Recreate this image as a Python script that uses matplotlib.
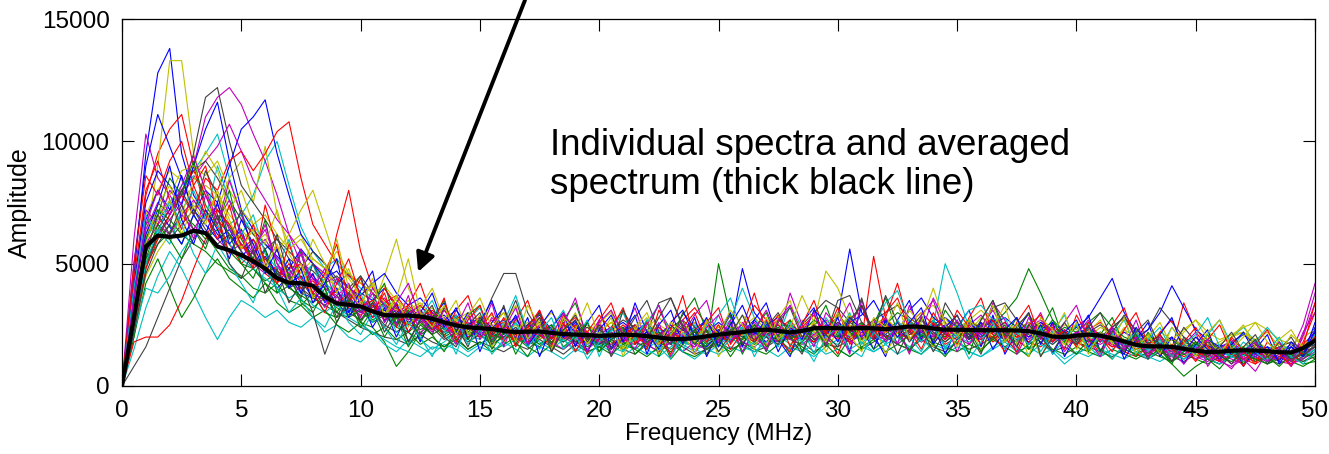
import numpy as np
import matplotlib
matplotlib.use('Agg')
from matplotlib import pyplot as plt

plt.rcParams['font.family'] = ['Liberation Sans', 'DejaVu Sans']

# frequency grid (MHz), one sample every 0.5 MHz
freq = np.linspace(0, 50, 101)

# individual spectra, amplitude in hundreds
spec_01 = [0, 45, 95, 128, 138, 95, 78, 70, 62, 58, 52, 60, 48, 40, 45, 38, 36, 42, 33, 30, 35, 28, 31, 26, 29, 33, 27, 24, 29, 22, 26, 21, 24, 28, 20, 23, 19, 25, 22, 17, 21, 24, 18, 22, 26, 19, 17, 21, 24, 20, 23, 18, 22, 27, 21, 19, 25, 22, 18, 24, 28, 56, 30, 24, 21, 26, 22, 19, 25, 28, 22, 20, 24, 27, 19, 22, 26, 21, 18, 23, 20, 24, 19, 22, 17, 15, 18, 14, 16, 13, 15, 12, 16, 13, 11, 14, 12, 15, 13, 16, 20]
spec_02 = [0, 25, 52, 60, 66, 58, 70, 62, 55, 48, 45, 40, 38, 42, 35, 33, 38, 30, 28, 32, 26, 24, 18, 8, 14, 22, 25, 20, 23, 19, 17, 21, 19, 23, 18, 16, 20, 22, 17, 19, 21, 18, 15, 19, 22, 17, 14, 18, 20, 16, 50, 28, 21, 18, 23, 25, 20, 24, 19, 22, 25, 21, 24, 20, 26, 22, 19, 23, 27, 21, 24, 20, 23, 19, 22, 25, 21, 18, 22, 19, 17, 20, 22, 18, 15, 13, 16, 14, 12, 15, 13, 11, 14, 12, 15, 13, 10, 12, 14, 11, 15]
spec_03 = [0, 40, 78, 95, 105, 111, 90, 72, 65, 58, 50, 55, 46, 42, 48, 50, 44, 40, 62, 80, 55, 40, 35, 30, 33, 28, 31, 26, 29, 24, 27, 22, 25, 20, 23, 26, 21, 19, 24, 22, 18, 21, 25, 20, 17, 22, 19, 23, 26, 20, 18, 22, 19, 25, 21, 23, 27, 20, 18, 22, 20, 24, 19, 53, 28, 22, 25, 21, 19, 23, 26, 21, 24, 18, 22, 20, 23, 26, 21, 19, 22, 18, 21, 17, 15, 19, 16, 14, 17, 13, 15, 12, 14, 16, 13, 11, 14, 12, 13, 17, 22]
spec_04 = [0, 35, 62, 70, 75, 82, 88, 95, 103, 85, 70, 78, 92, 100, 82, 65, 55, 48, 52, 45, 40, 36, 32, 28, 25, 30, 27, 22, 25, 21, 19, 23, 20, 24, 18, 21, 17, 20, 23, 19, 16, 20, 22, 18, 15, 19, 21, 17, 14, 18, 20, 23, 18, 21, 25, 19, 22, 20, 17, 21, 24, 19, 22, 26, 21, 18, 23, 20, 25, 50, 38, 24, 20, 23, 19, 22, 25, 20, 18, 21, 19, 23, 18, 20, 16, 14, 17, 19, 15, 13, 16, 14, 12, 15, 22, 17, 13, 15, 12, 14, 18]
spec_05 = [0, 30, 55, 62, 68, 75, 90, 110, 118, 122, 115, 103, 92, 78, 62, 50, 45, 40, 36, 38, 33, 30, 34, 28, 25, 29, 24, 22, 26, 21, 24, 20, 22, 19, 25, 21, 18, 22, 20, 17, 21, 24, 19, 17, 22, 20, 23, 18, 16, 21, 19, 22, 25, 20, 18, 23, 21, 19, 24, 22, 20, 23, 26, 21, 19, 24, 22, 27, 23, 20, 25, 21, 24, 28, 22, 19, 23, 21, 18, 22, 20, 17, 21, 19, 16, 18, 15, 17, 14, 16, 13, 11, 14, 9, 12, 15, 13, 11, 14, 25, 42]
spec_06 = [0, 28, 60, 90, 133, 133, 95, 80, 72, 85, 92, 75, 98, 70, 58, 62, 50, 45, 40, 38, 36, 32, 45, 60, 40, 30, 27, 24, 28, 22, 20, 24, 19, 22, 26, 21, 18, 23, 20, 24, 22, 19, 17, 21, 23, 18, 20, 24, 19, 16, 21, 18, 22, 20, 24, 21, 17, 23, 26, 47, 40, 28, 23, 20, 25, 22, 26, 21, 24, 19, 22, 27, 24, 20, 18, 22, 19, 24, 21, 17, 19, 22, 18, 21, 17, 20, 16, 18, 15, 17, 14, 16, 18, 21, 22, 17, 14, 16, 13, 15, 17]
spec_07 = [0, 20, 48, 62, 70, 78, 95, 118, 122, 100, 82, 75, 68, 60, 55, 50, 47, 42, 45, 40, 36, 31, 34, 28, 30, 26, 29, 23, 27, 21, 24, 36, 46, 46, 30, 22, 25, 19, 23, 20, 17, 21, 24, 19, 22, 34, 36, 25, 20, 23, 18, 21, 19, 23, 20, 17, 22, 24, 19, 21, 35, 37, 26, 22, 24, 20, 23, 27, 21, 18, 22, 20, 25, 21, 19, 23, 26, 22, 19, 21, 18, 16, 20, 24, 28, 21, 17, 15, 13, 16, 14, 17, 12, 15, 13, 16, 12, 14, 17, 13, 16]
spec_08 = [0, 32, 60, 72, 65, 58, 70, 80, 75, 90, 105, 110, 117, 95, 78, 62, 55, 50, 42, 46, 38, 35, 40, 32, 28, 31, 26, 29, 24, 22, 25, 21, 24, 27, 22, 19, 23, 21, 26, 20, 23, 19, 22, 25, 20, 18, 21, 24, 19, 22, 26, 22, 48, 30, 24, 21, 19, 23, 20, 25, 22, 26, 29, 35, 26, 22, 25, 20, 23, 28, 24, 21, 19, 23, 26, 21, 24, 20, 22, 18, 21, 24, 19, 22, 18, 16, 19, 17, 15, 18, 16, 14, 17, 13, 15, 12, 16, 14, 12, 15, 24]
spec_09 = [0, 26, 50, 58, 63, 70, 66, 60, 64, 55, 50, 48, 43, 46, 40, 37, 34, 38, 32, 29, 33, 27, 30, 25, 28, 23, 26, 21, 24, 20, 22, 19, 23, 21, 17, 20, 24, 18, 21, 16, 19, 22, 17, 20, 23, 18, 15, 19, 22, 17, 20, 18, 23, 19, 21, 24, 20, 22, 18, 21, 25, 21, 19, 23, 27, 22, 26, 21, 24, 20, 23, 27, 22, 25, 30, 36, 48, 38, 27, 22, 20, 24, 19, 21, 17, 15, 18, 13, 9, 4, 8, 11, 9, 13, 10, 12, 9, 11, 13, 10, 13]
spec_10 = [0, 30, 58, 66, 72, 78, 70, 85, 80, 92, 96, 88, 95, 104, 108, 85, 66, 58, 50, 45, 42, 38, 34, 37, 30, 33, 28, 31, 26, 24, 28, 23, 26, 21, 24, 28, 22, 19, 23, 20, 25, 21, 18, 22, 20, 24, 19, 21, 26, 22, 19, 23, 21, 18, 22, 25, 20, 24, 21, 19, 23, 20, 24, 19, 22, 26, 21, 23, 20, 24, 21, 25, 22, 19, 23, 20, 18, 22, 25, 21, 19, 23, 26, 21, 18, 20, 16, 19, 15, 34, 22, 16, 14, 17, 13, 15, 12, 14, 16, 13, 19]
spec_11 = [0, 33, 60, 68, 74, 80, 86, 78, 72, 66, 70, 62, 58, 52, 47, 44, 50, 42, 38, 34, 31, 35, 28, 25, 22, 19, 15, 18, 22, 25, 21, 18, 22, 26, 20, 17, 21, 19, 15, 18, 22, 19, 16, 20, 18, 23, 20, 17, 21, 19, 22, 27, 40, 28, 20, 24, 21, 18, 22, 19, 17, 21, 24, 20, 18, 22, 26, 21, 19, 23, 20, 18, 22, 24, 21, 19, 23, 20, 17, 21, 24, 20, 18, 22, 19, 17, 15, 18, 16, 14, 17, 15, 13, 20, 24, 18, 15, 13, 16, 12, 15]
spec_12 = [0, 60, 103, 85, 78, 70, 64, 72, 60, 55, 58, 50, 46, 49, 42, 39, 44, 36, 33, 37, 30, 33, 27, 30, 25, 28, 23, 26, 20, 24, 21, 25, 19, 22, 18, 21, 24, 20, 17, 21, 19, 16, 20, 23, 18, 21, 17, 14, 18, 21, 17, 20, 23, 19, 22, 18, 21, 25, 20, 23, 19, 22, 25, 21, 24, 20, 23, 27, 22, 19, 24, 21, 26, 22, 19, 23, 20, 25, 21, 18, 22, 19, 17, 20, 16, 18, 14, 17, 15, 13, 16, 14, 12, 15, 11, 14, 13, 10, 9, 12, 16]
spec_13 = [0, 22, 45, 55, 62, 68, 75, 82, 78, 70, 64, 58, 62, 55, 50, 46, 52, 48, 42, 39, 36, 33, 30, 34, 28, 25, 29, 24, 27, 22, 20, 24, 21, 25, 22, 19, 23, 27, 21, 18, 22, 26, 20, 18, 21, 25, 22, 19, 23, 20, 24, 21, 18, 22, 26, 21, 19, 23, 20, 24, 22, 25, 21, 24, 20, 23, 19, 22, 26, 21, 25, 22, 28, 24, 20, 23, 26, 21, 19, 22, 20, 17, 21, 19, 23, 20, 17, 22, 19, 16, 18, 15, 17, 20, 22, 19, 22, 16, 14, 17, 20]
spec_14 = [0, 8, 16, 28, 40, 52, 60, 68, 72, 65, 58, 52, 47, 44, 48, 40, 36, 33, 30, 27, 24, 22, 20, 19, 17, 21, 18, 16, 20, 15, 18, 16, 14, 17, 15, 19, 16, 13, 17, 14, 16, 19, 15, 13, 17, 14, 18, 16, 13, 15, 18, 15, 17, 14, 16, 19, 15, 18, 14, 17, 16, 19, 15, 18, 21, 17, 15, 19, 16, 14, 18, 15, 17, 20, 16, 19, 15, 18, 14, 16, 13, 16, 14, 12, 15, 13, 11, 14, 12, 10, 13, 11, 9, 12, 10, 13, 11, 9, 12, 10, 12]
spec_15 = [0, 50, 90, 111, 98, 85, 72, 66, 60, 64, 55, 50, 53, 46, 42, 45, 38, 35, 39, 33, 30, 34, 28, 31, 26, 29, 23, 27, 22, 25, 21, 24, 20, 23, 19, 22, 18, 21, 25, 20, 17, 21, 24, 19, 22, 18, 20, 23, 19, 16, 21, 24, 20, 22, 18, 23, 21, 19, 24, 20, 22, 18, 21, 25, 20, 23, 19, 22, 26, 21, 19, 23, 20, 24, 21, 18, 22, 26, 23, 20, 24, 28, 36, 44, 30, 22, 19, 17, 20, 16, 14, 17, 13, 16, 14, 12, 15, 13, 11, 14, 18]
spec_16 = [0, 36, 66, 72, 68, 62, 58, 55, 50, 47, 44, 48, 42, 38, 41, 35, 32, 36, 30, 28, 31, 26, 29, 24, 22, 26, 21, 24, 19, 22, 25, 20, 23, 19, 21, 17, 20, 23, 18, 21, 19, 22, 18, 15, 19, 22, 17, 20, 18, 15, 19, 23, 20, 17, 21, 24, 19, 22, 27, 23, 20, 23, 19, 22, 25, 30, 27, 22, 19, 23, 26, 22, 20, 24, 21, 25, 29, 23, 20, 24, 22, 26, 30, 24, 20, 18, 21, 17, 19, 15, 17, 13, 16, 14, 12, 15, 13, 11, 14, 12, 13]
spec_17 = [0, 24, 48, 60, 70, 80, 88, 78, 68, 62, 56, 60, 52, 47, 44, 40, 43, 37, 34, 38, 32, 35, 29, 32, 27, 30, 25, 22, 26, 20, 23, 27, 22, 19, 24, 21, 18, 22, 25, 21, 18, 22, 19, 17, 21, 24, 20, 27, 32, 25, 20, 18, 22, 19, 17, 21, 24, 20, 18, 23, 21, 19, 23, 20, 25, 22, 19, 24, 21, 17, 20, 23, 19, 22, 26, 21, 18, 16, 20, 22, 18, 15, 19, 17, 14, 12, 16, 13, 15, 11, 14, 12, 10, 13, 11, 9, 12, 14, 10, 18, 30]
spec_18 = [0, 15, 32, 45, 55, 48, 38, 28, 19, 28, 35, 32, 28, 31, 26, 24, 28, 22, 25, 20, 18, 22, 17, 14, 19, 16, 13, 17, 15, 12, 16, 14, 18, 15, 12, 16, 14, 11, 15, 13, 17, 14, 12, 16, 13, 15, 18, 14, 11, 15, 13, 16, 14, 18, 15, 12, 16, 14, 17, 13, 15, 12, 16, 14, 17, 13, 16, 19, 15, 13, 16, 14, 12, 15, 18, 14, 16, 13, 15, 11, 14, 12, 15, 13, 11, 14, 12, 10, 13, 11, 14, 11, 9, 12, 10, 13, 11, 14, 12, 15, 17]
spec_19 = [0, 34, 64, 75, 70, 78, 85, 92, 98, 107, 96, 84, 76, 68, 62, 55, 50, 46, 42, 38, 35, 32, 36, 30, 27, 31, 25, 28, 23, 26, 22, 25, 20, 23, 19, 22, 17, 21, 18, 15, 19, 22, 18, 21, 17, 20, 23, 19, 16, 20, 23, 19, 22, 26, 20, 18, 22, 19, 23, 27, 22, 20, 24, 21, 19, 23, 26, 22, 20, 24, 21, 25, 29, 23, 20, 22, 19, 23, 21, 18, 21, 18, 20, 16, 19, 17, 14, 16, 13, 15, 12, 10, 13, 11, 9, 12, 10, 13, 11, 20, 34]
spec_20 = [0, 38, 70, 80, 88, 84, 76, 70, 78, 66, 60, 64, 58, 55, 62, 72, 80, 65, 50, 44, 37, 41, 34, 31, 35, 29, 32, 26, 24, 28, 23, 26, 30, 25, 21, 24, 20, 23, 19, 22, 26, 30, 22, 19, 23, 20, 24, 21, 18, 22, 20, 24, 21, 19, 23, 26, 21, 25, 22, 20, 24, 21, 23, 27, 22, 20, 25, 23, 28, 24, 21, 25, 22, 26, 23, 21, 24, 20, 22, 19, 17, 20, 18, 22, 19, 17, 20, 16, 19, 23, 27, 22, 19, 21, 24, 26, 23, 19, 17, 20, 23]
spec_21 = [0, 28, 55, 64, 72, 80, 88, 92, 85, 76, 68, 62, 56, 60, 52, 48, 55, 50, 44, 40, 45, 38, 33, 29, 32, 27, 30, 25, 28, 23, 26, 22, 19, 23, 21, 25, 20, 18, 22, 24, 20, 23, 27, 24, 20, 18, 21, 25, 22, 19, 23, 20, 24, 21, 26, 22, 19, 25, 30, 35, 32, 26, 23, 27, 30, 33, 28, 24, 21, 25, 22, 26, 24, 32, 34, 27, 23, 20, 24, 21, 19, 22, 25, 21, 18, 20, 23, 32, 26, 20, 17, 19, 15, 18, 21, 17, 14, 16, 18, 15, 17]
spec_22 = [0, 42, 75, 88, 82, 74, 90, 105, 116, 92, 72, 64, 58, 53, 48, 56, 50, 44, 47, 40, 37, 42, 46, 38, 33, 36, 30, 27, 31, 25, 28, 24, 27, 22, 25, 29, 23, 20, 24, 21, 19, 23, 26, 22, 18, 21, 25, 20, 23, 27, 22, 19, 24, 21, 25, 28, 23, 20, 24, 21, 26, 23, 20, 24, 27, 22, 31, 36, 28, 24, 22, 26, 21, 25, 28, 24, 20, 23, 26, 22, 20, 24, 21, 18, 22, 19, 23, 30, 41, 32, 23, 19, 16, 18, 14, 17, 15, 13, 16, 12, 22]
spec_23 = [0, 20, 42, 52, 40, 28, 36, 46, 52, 44, 40, 36, 42, 34, 30, 33, 28, 31, 25, 22, 26, 21, 24, 19, 22, 17, 20, 16, 19, 15, 18, 14, 17, 20, 16, 13, 17, 15, 19, 14, 16, 13, 17, 15, 12, 16, 19, 14, 12, 15, 17, 14, 18, 15, 13, 17, 20, 16, 13, 18, 15, 12, 16, 19, 14, 17, 15, 13, 18, 16, 14, 17, 15, 19, 16, 13, 17, 20, 15, 13, 16, 14, 12, 15, 13, 11, 14, 12, 10, 13, 11, 9, 12, 10, 13, 11, 9, 12, 10, 8, 11]
spec_24 = [0, 18, 20, 20, 25, 35, 48, 60, 72, 66, 58, 52, 48, 44, 50, 42, 38, 35, 39, 32, 29, 33, 27, 30, 25, 28, 23, 26, 21, 24, 20, 23, 26, 21, 18, 22, 20, 24, 28, 22, 19, 17, 21, 24, 20, 17, 22, 19, 23, 26, 21, 18, 22, 19, 23, 27, 24, 20, 25, 22, 19, 23, 21, 24, 20, 22, 26, 30, 25, 21, 23, 19, 22, 20, 24, 21, 18, 22, 25, 20, 17, 21, 19, 16, 18, 15, 17, 13, 15, 12, 14, 11, 13, 15, 12, 10, 13, 11, 14, 16, 20]
spec_25 = [0, 22, 40, 38, 45, 55, 62, 70, 66, 58, 52, 48, 44, 40, 36, 39, 33, 30, 34, 28, 25, 22, 19, 16, 14, 12, 16, 15, 18, 14, 17, 20, 16, 19, 22, 18, 15, 19, 14, 17, 20, 16, 14, 18, 15, 12, 16, 19, 15, 13, 17, 20, 16, 14, 18, 21, 17, 15, 12, 16, 19, 15, 18, 14, 17, 20, 16, 13, 17, 15, 18, 14, 12, 16, 19, 15, 13, 17, 14, 9, 13, 16, 12, 15, 18, 14, 11, 15, 24, 17, 13, 11, 14, 12, 15, 18, 24, 18, 14, 12, 15]
spec_26 = [0, 30, 58, 66, 62, 70, 76, 68, 74, 64, 58, 54, 60, 52, 46, 50, 44, 40, 37, 41, 34, 30, 33, 28, 31, 26, 29, 24, 21, 25, 22, 19, 23, 20, 17, 21, 18, 15, 19, 22, 18, 15, 19, 22, 17, 14, 18, 21, 17, 15, 19, 22, 18, 16, 20, 23, 19, 17, 21, 25, 21, 18, 22, 19, 23, 26, 22, 18, 21, 24, 20, 17, 22, 25, 21, 18, 24, 27, 22, 19, 22, 18, 21, 17, 15, 18, 14, 16, 12, 15, 11, 13, 10, 8, 11, 13, 10, 12, 9, 11, 14]
spec_27 = [0, 34, 62, 70, 78, 88, 90, 86, 92, 80, 72, 66, 70, 62, 56, 60, 52, 48, 55, 46, 42, 38, 41, 35, 31, 34, 29, 32, 27, 30, 26, 29, 24, 27, 22, 25, 30, 24, 21, 25, 22, 26, 23, 20, 24, 28, 23, 21, 26, 22, 25, 21, 24, 28, 23, 20, 24, 27, 22, 26, 29, 24, 21, 25, 28, 23, 26, 30, 33, 26, 23, 27, 31, 26, 22, 25, 29, 24, 21, 25, 23, 20, 24, 21, 18, 22, 19, 16, 19, 17, 20, 17, 15, 18, 16, 19, 15, 17, 14, 16, 19]
spec_28 = [0, 25, 50, 62, 60, 66, 72, 64, 58, 62, 55, 48, 52, 45, 40, 43, 36, 33, 37, 30, 27, 31, 25, 22, 26, 21, 24, 19, 22, 18, 21, 17, 20, 24, 19, 16, 20, 23, 18, 21, 17, 20, 23, 18, 16, 21, 24, 27, 22, 18, 21, 18, 22, 25, 20, 17, 21, 24, 19, 22, 26, 22, 19, 23, 20, 17, 21, 25, 22, 18, 22, 19, 23, 27, 21, 18, 22, 20, 17, 21, 19, 22, 18, 24, 28, 23, 19, 16, 14, 17, 15, 13, 16, 12, 14, 17, 13, 15, 12, 14, 16]
spec_29 = [0, 35, 68, 80, 72, 86, 70, 62, 75, 58, 64, 50, 56, 44, 52, 38, 46, 34, 40, 28, 36, 24, 32, 20, 30, 18, 28, 34, 22, 30, 14, 26, 32, 18, 28, 12, 24, 30, 16, 26, 33, 15, 22, 29, 13, 25, 31, 17, 28, 12, 22, 30, 16, 27, 34, 19, 12, 26, 32, 18, 28, 14, 33, 21, 12, 27, 35, 19, 25, 13, 24, 31, 16, 29, 13, 22, 30, 17, 26, 12, 21, 29, 14, 24, 11, 19, 26, 12, 20, 9, 17, 23, 10, 18, 8, 15, 21, 9, 16, 12, 26]
spec_30 = [0, 30, 60, 70, 85, 78, 92, 74, 66, 80, 60, 52, 68, 46, 40, 55, 36, 44, 30, 38, 26, 34, 42, 25, 31, 19, 27, 35, 21, 29, 33, 18, 25, 13, 22, 30, 17, 27, 34, 20, 14, 24, 31, 18, 27, 12, 21, 29, 36, 22, 16, 26, 13, 23, 30, 18, 27, 14, 24, 33, 20, 29, 15, 25, 36, 22, 14, 28, 18, 31, 24, 13, 27, 35, 20, 28, 15, 23, 32, 18, 25, 14, 21, 28, 17, 12, 22, 15, 9, 19, 14, 21, 12, 17, 9, 15, 12, 18, 10, 14, 11]
spec_31 = [0, 44, 80, 92, 76, 64, 82, 90, 70, 54, 62, 48, 74, 56, 42, 50, 38, 46, 58, 34, 44, 30, 38, 24, 33, 42, 28, 20, 31, 37, 23, 30, 18, 27, 35, 21, 16, 29, 24, 13, 27, 34, 20, 25, 15, 31, 23, 37, 19, 26, 32, 17, 24, 38, 22, 29, 16, 25, 35, 21, 13, 26, 33, 19, 28, 42, 24, 18, 30, 22, 17, 28, 36, 21, 14, 26, 33, 19, 24, 15, 29, 20, 13, 25, 32, 18, 12, 22, 27, 16, 10, 19, 25, 14, 8, 17, 23, 13, 9, 16, 34]
spec_32 = [0, 26, 50, 64, 58, 72, 80, 68, 90, 76, 62, 70, 54, 48, 60, 42, 50, 36, 44, 30, 38, 26, 34, 22, 17, 28, 35, 24, 13, 27, 32, 20, 26, 37, 22, 15, 24, 31, 19, 27, 12, 23, 30, 18, 26, 33, 21, 14, 25, 19, 29, 36, 22, 15, 26, 20, 33, 24, 13, 28, 21, 30, 17, 24, 34, 39, 26, 18, 27, 15, 23, 31, 33, 27, 28, 18, 25, 14, 22, 29, 17, 24, 13, 21, 27, 15, 19, 24, 14, 11, 16, 21, 27, 17, 12, 19, 14, 20, 11, 15, 21]
spec_33 = [0, 38, 72, 66, 80, 74, 60, 78, 66, 84, 70, 56, 64, 50, 42, 54, 40, 32, 44, 36, 28, 40, 33, 25, 37, 21, 30, 26, 17, 29, 22, 34, 16, 28, 20, 31, 14, 25, 36, 19, 27, 13, 22, 32, 17, 26, 12, 21, 29, 35, 18, 27, 14, 23, 31, 20, 38, 25, 16, 30, 24, 13, 35, 21, 28, 17, 33, 22, 36, 26, 14, 25, 20, 34, 27, 13, 22, 30, 18, 26, 33, 19, 12, 23, 16, 27, 13, 20, 10, 17, 22, 8, 15, 19, 11, 6, 14, 18, 10, 22, 30]
spec_34 = [0, 32, 58, 74, 82, 70, 84, 96, 88, 72, 80, 66, 58, 72, 54, 46, 60, 50, 38, 48, 34, 42, 29, 37, 24, 32, 40, 27, 35, 21, 29, 16, 25, 33, 19, 27, 14, 22, 30, 17, 25, 31, 15, 23, 28, 13, 21, 27, 18, 26, 12, 20, 29, 24, 16, 28, 35, 19, 26, 14, 23, 29, 18, 26, 13, 22, 31, 25, 16, 28, 20, 27, 14, 24, 33, 17, 25, 12, 21, 30, 15, 22, 27, 17, 24, 13, 20, 26, 16, 22, 27, 19, 13, 20, 25, 16, 12, 19, 23, 15, 20]
spec_35 = [0, 22, 46, 58, 66, 80, 70, 88, 78, 60, 72, 54, 48, 62, 44, 36, 50, 40, 28, 38, 45, 30, 24, 34, 18, 27, 21, 32, 25, 16, 28, 21, 33, 17, 25, 30, 14, 23, 29, 19, 24, 12, 20, 28, 35, 22, 17, 30, 24, 13, 21, 29, 17, 24, 14, 26, 32, 20, 25, 16, 30, 22, 36, 19, 25, 13, 23, 29, 17, 34, 26, 21, 13, 27, 18, 24, 30, 12, 20, 26, 18, 25, 14, 22, 29, 19, 11, 21, 15, 24, 18, 12, 16, 22, 14, 19, 9, 15, 20, 12, 17]
spec_36 = [0, 40, 62, 74, 90, 68, 58, 72, 64, 52, 68, 58, 46, 56, 40, 48, 34, 42, 52, 30, 39, 47, 26, 34, 22, 30, 38, 24, 32, 19, 26, 35, 21, 29, 16, 24, 31, 20, 27, 14, 23, 29, 18, 34, 22, 15, 26, 31, 20, 28, 16, 25, 33, 21, 27, 14, 24, 19, 31, 26, 18, 28, 23, 15, 27, 20, 26, 32, 17, 24, 29, 19, 26, 15, 23, 28, 17, 25, 13, 22, 27, 16, 22, 19, 13, 24, 17, 21, 28, 14, 20, 15, 11, 17, 22, 13, 16, 10, 18, 12, 23]
spec_37 = [0, 28, 52, 66, 60, 52, 64, 56, 70, 62, 50, 44, 56, 38, 46, 34, 30, 40, 26, 35, 24, 31, 20, 28, 16, 25, 21, 14, 23, 19, 27, 15, 22, 18, 12, 21, 25, 16, 20, 26, 14, 19, 24, 13, 18, 22, 11, 17, 23, 15, 20, 12, 19, 25, 16, 21, 13, 18, 24, 17, 12, 20, 26, 15, 19, 24, 14, 21, 17, 12, 19, 23, 14, 20, 25, 16, 12, 21, 27, 18, 13, 19, 15, 11, 17, 21, 12, 15, 10, 14, 18, 11, 7, 13, 16, 10, 12, 8, 13, 9, 10]
spec_38 = [0, 50, 86, 78, 92, 100, 82, 70, 60, 74, 56, 66, 50, 42, 58, 44, 38, 30, 42, 52, 36, 28, 40, 33, 22, 30, 25, 36, 18, 27, 33, 20, 28, 16, 24, 31, 19, 26, 14, 22, 29, 23, 32, 17, 26, 20, 13, 24, 30, 18, 25, 15, 22, 33, 27, 19, 14, 24, 29, 21, 32, 17, 25, 20, 30, 36, 23, 15, 26, 19, 31, 24, 17, 27, 20, 14, 25, 29, 18, 23, 16, 26, 20, 14, 23, 30, 17, 21, 12, 18, 24, 16, 10, 20, 14, 9, 18, 13, 8, 15, 20]
spec_39 = [0, 40, 70, 62, 76, 66, 54, 46, 58, 50, 42, 34, 48, 40, 30, 36, 28, 24, 34, 26, 21, 30, 24, 17, 26, 20, 12, 22, 29, 17, 23, 13, 19, 26, 16, 22, 28, 15, 21, 11, 18, 24, 14, 20, 27, 16, 11, 22, 17, 25, 14, 19, 24, 12, 21, 16, 26, 18, 10, 20, 24, 15, 12, 22, 17, 27, 20, 14, 24, 16, 21, 11, 18, 26, 15, 22, 17, 24, 13, 19, 25, 15, 20, 11, 17, 22, 14, 19, 12, 17, 21, 28, 16, 12, 18, 14, 10, 16, 12, 9, 14]
spec_40 = [0, 36, 66, 80, 70, 82, 94, 80, 68, 76, 62, 54, 66, 50, 44, 56, 40, 48, 34, 42, 30, 38, 26, 34, 42, 28, 22, 31, 24, 34, 19, 28, 23, 32, 17, 25, 20, 30, 22, 14, 26, 31, 21, 15, 25, 33, 19, 27, 13, 24, 29, 18, 26, 21, 15, 27, 33, 22, 30, 17, 25, 34, 20, 27, 18, 24, 13, 29, 35, 21, 27, 17, 24, 31, 22, 16, 28, 19, 25, 14, 21, 27, 18, 24, 15, 20, 12, 17, 14, 9, 15, 19, 11, 7, 14, 18, 10, 16, 8, 21, 38]
spec_41 = [0, 30, 56, 68, 76, 62, 74, 66, 80, 68, 56, 64, 48, 58, 42, 50, 36, 44, 60, 40, 32, 44, 28, 36, 52, 30, 24, 33, 21, 29, 36, 24, 30, 18, 33, 25, 15, 28, 23, 34, 20, 28, 12, 24, 30, 17, 26, 22, 13, 27, 21, 31, 25, 15, 28, 19, 24, 37, 26, 18, 30, 21, 14, 28, 24, 34, 19, 26, 40, 25, 16, 27, 22, 33, 18, 25, 12, 28, 23, 17, 26, 13, 22, 18, 28, 15, 21, 13, 24, 18, 12, 22, 27, 15, 20, 26, 18, 13, 21, 16, 19]
spec_42 = [0, 26, 54, 70, 62, 74, 64, 58, 70, 50, 44, 56, 38, 48, 34, 42, 30, 13, 26, 36, 27, 34, 22, 30, 18, 27, 33, 20, 16, 25, 30, 17, 24, 35, 21, 28, 14, 23, 27, 18, 25, 15, 31, 22, 19, 28, 36, 24, 17, 23, 14, 21, 29, 18, 24, 30, 20, 13, 25, 21, 16, 27, 33, 22, 37, 26, 18, 24, 14, 22, 29, 19, 27, 35, 23, 16, 25, 20, 14, 22, 17, 24, 30, 19, 14, 22, 27, 16, 10, 20, 14, 18, 13, 9, 16, 21, 12, 15, 11, 13, 16]

# averaged spectrum (thick black line), amplitude in hundreds
mean_spec = [0, 28, 57, 61.5, 61, 61.5, 63.5, 62.5, 57, 55.5, 53.5, 51, 48, 44, 42.2, 42, 41, 36.5, 33.8, 33.2,
             32.5, 30.5, 29, 28.8, 28.8, 28.4, 27.5, 26, 24.8, 24, 23.6, 23.3, 22.5, 22, 22.2, 22.3, 21.7, 21.2, 21, 20.8,
             20.5, 20.7, 21, 20.8, 20.4, 19.8, 19.2, 19.2, 19.6, 20.3, 21, 21.5, 22, 22.8, 23, 22.5, 21.9, 22.5, 23.6, 23.7,
             23.6, 23.5, 23.7, 23.6, 23.2, 23.8, 24.3, 24.2, 23.5, 23, 23, 22.9, 22.8, 22.8, 22.8, 22.7, 22.4, 21.5, 20.2, 20,
             20.6, 21, 20.6, 19.5, 18.2, 16.8, 16.2, 16.2, 16, 15.2, 14.4, 13.9, 14, 14.4, 14.6, 14.5, 14.2, 13.8, 13.7, 15.5,
             18.6]

spectra = [spec_01, spec_02, spec_03, spec_04, spec_05, spec_06, spec_07,
           spec_08, spec_09, spec_10, spec_11, spec_12, spec_13, spec_14,
           spec_15, spec_16, spec_17, spec_18, spec_19, spec_20, spec_21,
           spec_22, spec_23, spec_24, spec_25, spec_26, spec_27, spec_28,
           spec_29, spec_30, spec_31, spec_32, spec_33, spec_34, spec_35,
           spec_36, spec_37, spec_38, spec_39, spec_40, spec_41, spec_42]

# old MATLAB line colour order: b g r c m y k
colors = [(0, 0, 1), (0, 0.5, 0), (1, 0, 0), (0, 0.75, 0.75),
          (0.75, 0, 0.75), (0.75, 0.75, 0), (0.25, 0.25, 0.25)]

fig = plt.figure(figsize=(13.29, 4.54), dpi=100)
ax = fig.add_axes([0.0918, 0.1498, 0.8977, 0.8082])

for i, s in enumerate(spectra):
    assert len(s) == len(freq), (i, len(s))
    ax.plot(freq, np.array(s) * 100, color=colors[i % 7], lw=0.8)

ax.plot(freq, np.array(mean_spec) * 100, color='k', lw=3, solid_joinstyle='round')

ax.set_xlim(0, 50)
ax.set_ylim(0, 15000)
ax.set_xticks(range(0, 51, 5))
ax.set_yticks([0, 5000, 10000, 15000])
ax.tick_params(direction='in', length=8.5, width=0.8, top=True, right=True,
               labelsize=17.5, pad=9)
ax.tick_params(axis='x', pad=10)
for sp in ax.spines.values():
    sp.set_linewidth(0.9)

ax.set_xlabel('Frequency (MHz)', fontsize=17.5, labelpad=1)
ax.set_ylabel('Amplitude', fontsize=18, labelpad=7)

ax.text(17.94, 10550, 'Individual spectra and averaged\nspectrum (thick black line)',
        fontsize=26.5, va='top', ha='left', linespacing=1.15)

ax.annotate('', xy=(12.41, 4660), xytext=(16.89, 15775),
            arrowprops=dict(arrowstyle='-|>', lw=2.8, color='k',
                            mutation_scale=28, shrinkA=0, shrinkB=0),
            annotation_clip=False)

fig.savefig('out.png', dpi=100)
